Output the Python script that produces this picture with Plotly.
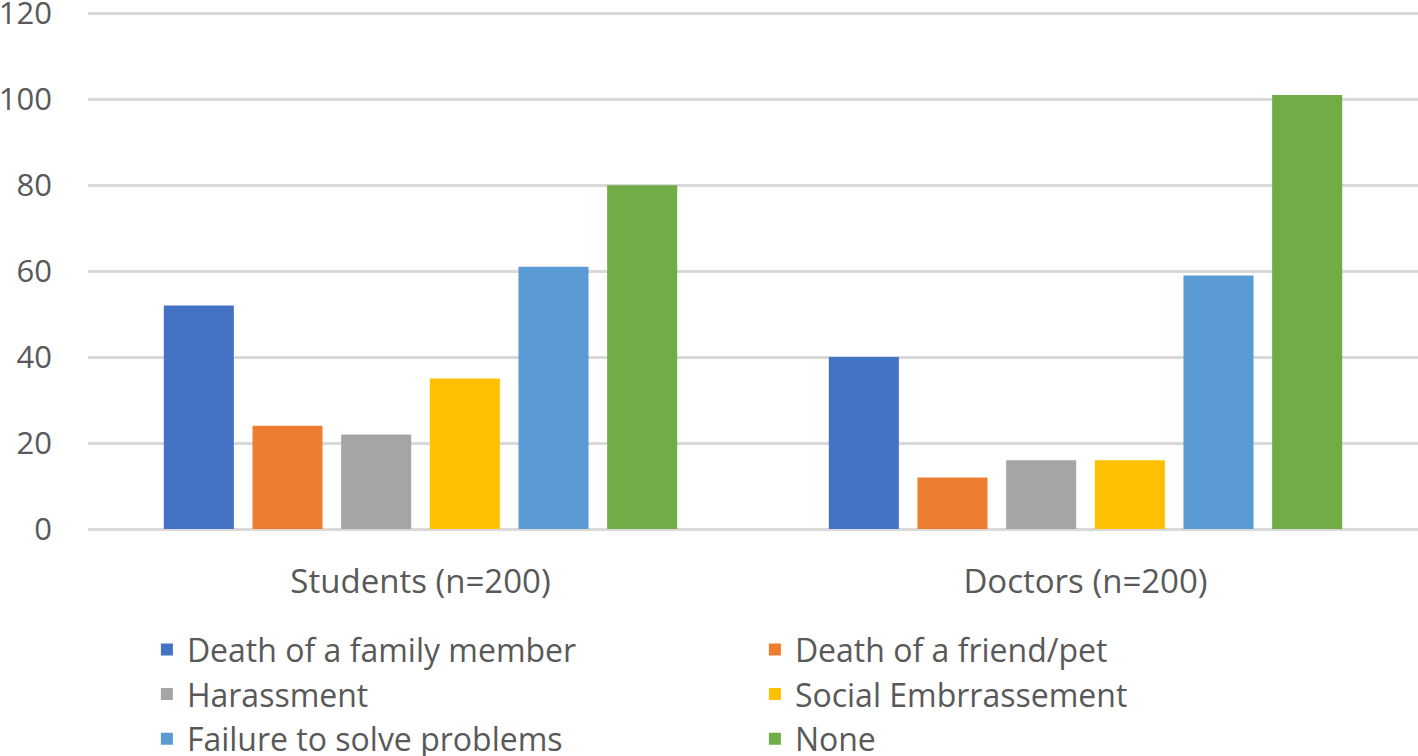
import plotly.graph_objects as go

categories = ["Students (n=200)", "Doctors (n=200)"]
series_names = ["Death of a family member", "Death of a friend/pet", "Harassment",
                "Social Embrrassement", "Failure to solve problems", "None"]
death_family = [52, 40]
death_friend = [24, 12]
harassment = [22, 16]
social = [35, 16]
failure = [61, 59]
none_vals = [80, 101]
series_values = [death_family, death_friend, harassment, social, failure, none_vals]
colors = ["#4472C4", "#ED7D31", "#A5A5A5", "#FFC000", "#5B9BD5", "#70AD47"]
y_ticks = [0, 20, 40, 60, 80, 100, 120]

FONT = "Open Sans"
TXT = "#595959"

fig = go.Figure()
for name, vals, col in zip(series_names, series_values, colors):
    fig.add_trace(go.Bar(name=name, x=categories, y=vals, marker_color=col,
                         marker_line_width=0))

fig.update_layout(
    width=1418, height=756,
    margin=dict(l=88, r=0, t=9, b=227, autoexpand=False),
    paper_bgcolor="white", plot_bgcolor="white",
    barmode="group", bargap=0.2, bargroupgap=0.21,
    font=dict(family=FONT, size=32, color=TXT),
    showlegend=True,
    legend=dict(orientation="h", xref="container", yref="container",
                x=0.1036, y=0.177, xanchor="left", yanchor="top",
                entrywidth=563, entrywidthmode="pixels",
                font=dict(family=FONT, size=32, color=TXT),
                traceorder="normal"),
)
fig.update_yaxes(range=[0, 121], tickvals=y_ticks, showgrid=True,
                 gridcolor="#D9D9D9", gridwidth=2.5, zeroline=True,
                 zerolinecolor="#D9D9D9", zerolinewidth=2.5, showline=False,
                 ticks="", ticklabelstandoff=35, automargin=False,
                 ticklabeloverflow="allow",
                 tickfont=dict(family=FONT, size=31, color=TXT))
fig.update_xaxes(showline=False, ticks="", showgrid=False, automargin=False,
                 tickfont=dict(family=FONT, size=33, color=TXT), ticklabelstandoff=30)

fig.write_html("out.html", config={"displayModeBar": False},
               post_script="document.body.style.margin='0';")
